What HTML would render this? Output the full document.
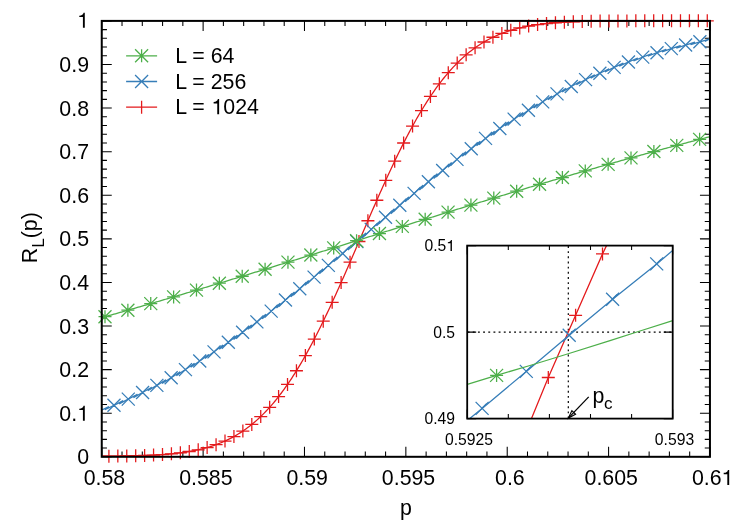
<!DOCTYPE html>
<html><head><meta charset="utf-8"><title>R_L(p)</title>
<style>
html,body{margin:0;padding:0;background:#fff;}
body{width:747px;height:523px;overflow:hidden;font-family:"Liberation Sans",sans-serif;}
svg{display:block;will-change:transform;}
text{font-family:"Liberation Sans",sans-serif;fill:#000;}
</style></head><body>
<svg width="747" height="523" viewBox="0 0 747 523">
<rect width="747" height="523" fill="#fff"/>

<path d="M101.75 456.8v-10M101.75 20.9v10M122.02 456.8v-5.2M122.02 20.9v5.2M142.30 456.8v-5.2M142.30 20.9v5.2M162.57 456.8v-5.2M162.57 20.9v5.2M182.84 456.8v-5.2M182.84 20.9v5.2M203.12 456.8v-10M203.12 20.9v10M223.39 456.8v-5.2M223.39 20.9v5.2M243.66 456.8v-5.2M243.66 20.9v5.2M263.94 456.8v-5.2M263.94 20.9v5.2M284.21 456.8v-5.2M284.21 20.9v5.2M304.48 456.8v-10M304.48 20.9v10M324.76 456.8v-5.2M324.76 20.9v5.2M345.03 456.8v-5.2M345.03 20.9v5.2M365.30 456.8v-5.2M365.30 20.9v5.2M385.58 456.8v-5.2M385.58 20.9v5.2M405.85 456.8v-10M405.85 20.9v10M426.12 456.8v-5.2M426.12 20.9v5.2M446.40 456.8v-5.2M446.40 20.9v5.2M466.67 456.8v-5.2M466.67 20.9v5.2M486.94 456.8v-5.2M486.94 20.9v5.2M507.22 456.8v-10M507.22 20.9v10M527.49 456.8v-5.2M527.49 20.9v5.2M547.76 456.8v-5.2M547.76 20.9v5.2M568.04 456.8v-5.2M568.04 20.9v5.2M588.31 456.8v-5.2M588.31 20.9v5.2M608.58 456.8v-10M608.58 20.9v10M628.86 456.8v-5.2M628.86 20.9v5.2M649.13 456.8v-5.2M649.13 20.9v5.2M669.40 456.8v-5.2M669.40 20.9v5.2M689.68 456.8v-5.2M689.68 20.9v5.2M709.95 456.8v-10M709.95 20.9v10M101.75 456.80h10M709.95 456.80h-10M101.75 448.08h5.2M709.95 448.08h-5.2M101.75 439.36h5.2M709.95 439.36h-5.2M101.75 430.65h5.2M709.95 430.65h-5.2M101.75 421.93h5.2M709.95 421.93h-5.2M101.75 413.21h10M709.95 413.21h-10M101.75 404.49h5.2M709.95 404.49h-5.2M101.75 395.77h5.2M709.95 395.77h-5.2M101.75 387.06h5.2M709.95 387.06h-5.2M101.75 378.34h5.2M709.95 378.34h-5.2M101.75 369.62h10M709.95 369.62h-10M101.75 360.90h5.2M709.95 360.90h-5.2M101.75 352.18h5.2M709.95 352.18h-5.2M101.75 343.47h5.2M709.95 343.47h-5.2M101.75 334.75h5.2M709.95 334.75h-5.2M101.75 326.03h10M709.95 326.03h-10M101.75 317.31h5.2M709.95 317.31h-5.2M101.75 308.59h5.2M709.95 308.59h-5.2M101.75 299.88h5.2M709.95 299.88h-5.2M101.75 291.16h5.2M709.95 291.16h-5.2M101.75 282.44h10M709.95 282.44h-10M101.75 273.72h5.2M709.95 273.72h-5.2M101.75 265.00h5.2M709.95 265.00h-5.2M101.75 256.29h5.2M709.95 256.29h-5.2M101.75 247.57h5.2M709.95 247.57h-5.2M101.75 238.85h10M709.95 238.85h-10M101.75 230.13h5.2M709.95 230.13h-5.2M101.75 221.41h5.2M709.95 221.41h-5.2M101.75 212.70h5.2M709.95 212.70h-5.2M101.75 203.98h5.2M709.95 203.98h-5.2M101.75 195.26h10M709.95 195.26h-10M101.75 186.54h5.2M709.95 186.54h-5.2M101.75 177.82h5.2M709.95 177.82h-5.2M101.75 169.11h5.2M709.95 169.11h-5.2M101.75 160.39h5.2M709.95 160.39h-5.2M101.75 151.67h10M709.95 151.67h-10M101.75 142.95h5.2M709.95 142.95h-5.2M101.75 134.23h5.2M709.95 134.23h-5.2M101.75 125.52h5.2M709.95 125.52h-5.2M101.75 116.80h5.2M709.95 116.80h-5.2M101.75 108.08h10M709.95 108.08h-10M101.75 99.36h5.2M709.95 99.36h-5.2M101.75 90.64h5.2M709.95 90.64h-5.2M101.75 81.93h5.2M709.95 81.93h-5.2M101.75 73.21h5.2M709.95 73.21h-5.2M101.75 64.49h10M709.95 64.49h-10M101.75 55.77h5.2M709.95 55.77h-5.2M101.75 47.05h5.2M709.95 47.05h-5.2M101.75 38.34h5.2M709.95 38.34h-5.2M101.75 29.62h5.2M709.95 29.62h-5.2M101.75 20.90h10M709.95 20.90h-10" stroke="#000" stroke-width="1.05" fill="none"/>
<clipPath id="mc"><rect x="101.75" y="18.9" width="608.20" height="439.90"/></clipPath>
<path d="M101.75 456.18L103.27 456.17L104.79 456.16L106.31 456.15L107.83 456.14L109.35 456.13L110.87 456.12L112.39 456.10L113.91 456.09L115.43 456.07L116.96 456.06L118.48 456.04L120.00 456.02L121.52 456.00L123.04 455.98L124.56 455.95L126.08 455.93L127.60 455.90L129.12 455.87L130.64 455.84L132.16 455.81L133.68 455.78L135.20 455.74L136.72 455.70L138.24 455.66L139.76 455.61L141.28 455.57L142.80 455.52L144.32 455.47L145.84 455.41L147.36 455.35L148.89 455.29L150.41 455.22L151.93 455.15L153.45 455.08L154.97 455.00L156.49 454.92L158.01 454.83L159.53 454.74L161.05 454.64L162.57 454.53L164.09 454.42L165.61 454.31L167.13 454.19L168.65 454.06L170.17 453.92L171.69 453.78L173.21 453.63L174.73 453.47L176.25 453.31L177.78 453.13L179.30 452.95L180.82 452.76L182.34 452.56L183.86 452.35L185.38 452.12L186.90 451.89L188.42 451.64L189.94 451.39L191.46 451.12L192.98 450.84L194.50 450.54L196.02 450.24L197.54 449.91L199.06 449.58L200.58 449.22L202.10 448.86L203.62 448.47L205.14 448.07L206.66 447.65L208.18 447.22L209.71 446.76L211.23 446.29L212.75 445.80L214.27 445.29L215.79 444.75L217.31 444.20L218.83 443.62L220.35 443.02L221.87 442.40L223.39 441.75L224.91 441.08L226.43 440.38L227.95 439.66L229.47 438.91L230.99 438.13L232.51 437.32L234.03 436.49L235.55 435.63L237.07 434.73L238.60 433.81L240.12 432.86L241.64 431.87L243.16 430.85L244.68 429.80L246.20 428.72L247.72 427.60L249.24 426.44L250.76 425.25L252.28 424.03L253.80 422.77L255.32 421.47L256.84 420.13L258.36 418.75L259.88 417.34L261.40 415.89L262.92 414.39L264.44 412.86L265.96 411.28L267.48 409.67L269.00 408.01L270.53 406.32L272.05 404.58L273.57 402.79L275.09 400.97L276.61 399.10L278.13 397.19L279.65 395.23L281.17 393.24L282.69 391.19L284.21 389.11L285.73 386.98L287.25 384.81L288.77 382.59L290.29 380.33L291.81 378.03L293.33 375.68L294.85 373.29L296.37 370.86L297.89 368.38L299.42 365.87L300.94 363.31L302.46 360.70L303.98 358.06L305.50 355.38L307.02 352.65L308.54 349.89L310.06 347.08L311.58 344.24L313.10 341.36L314.62 338.45L316.14 335.49L317.66 332.50L319.18 329.48L320.70 326.42L322.22 323.33L323.74 320.20L325.26 317.05L326.78 313.86L328.30 310.65L329.82 307.40L331.35 304.13L332.87 300.84L334.39 297.52L335.91 294.17L337.43 290.81L338.95 287.42L340.47 284.01L341.99 280.59L343.51 277.15L345.03 273.69L346.55 270.22L348.07 266.73L349.59 263.23L351.11 259.73L352.63 256.21L354.15 252.69L355.67 249.16L357.19 245.62L358.71 242.09L360.24 238.55L361.76 235.01L363.28 231.48L364.80 227.94L366.32 224.41L367.84 220.89L369.36 217.37L370.88 213.87L372.40 210.37L373.92 206.88L375.44 203.41L376.96 199.95L378.48 196.51L380.00 193.09L381.52 189.68L383.04 186.29L384.56 182.93L386.08 179.58L387.60 176.26L389.12 172.97L390.64 169.70L392.17 166.45L393.69 163.24L395.21 160.05L396.73 156.90L398.25 153.77L399.77 150.68L401.29 147.62L402.81 144.60L404.33 141.61L405.85 138.65L407.37 135.74L408.89 132.86L410.41 130.02L411.93 127.21L413.45 124.45L414.97 121.72L416.49 119.04L418.01 116.40L419.53 113.79L421.06 111.23L422.58 108.72L424.10 106.24L425.62 103.81L427.14 101.42L428.66 99.07L430.18 96.77L431.70 94.51L433.22 92.29L434.74 90.12L436.26 87.99L437.78 85.91L439.30 83.86L440.82 81.87L442.34 79.91L443.86 78.00L445.38 76.13L446.90 74.31L448.42 72.52L449.94 70.78L451.46 69.09L452.99 67.43L454.51 65.82L456.03 64.24L457.55 62.71L459.07 61.21L460.59 59.76L462.11 58.35L463.63 56.97L465.15 55.63L466.67 54.33L468.19 53.07L469.71 51.85L471.23 50.66L472.75 49.50L474.27 48.38L475.79 47.30L477.31 46.25L478.83 45.23L480.35 44.24L481.88 43.29L483.40 42.37L484.92 41.47L486.44 40.61L487.96 39.78L489.48 38.97L491.00 38.19L492.52 37.44L494.04 36.72L495.56 36.02L497.08 35.35L498.60 34.70L500.12 34.08L501.64 33.48L503.16 32.90L504.68 32.35L506.20 31.81L507.72 31.30L509.24 30.81L510.76 30.34L512.28 29.88L513.81 29.45L515.33 29.03L516.85 28.63L518.37 28.24L519.89 27.88L521.41 27.52L522.93 27.19L524.45 26.86L525.97 26.56L527.49 26.26L529.01 25.98L530.53 25.71L532.05 25.46L533.57 25.21L535.09 24.98L536.61 24.75L538.13 24.54L539.65 24.34L541.17 24.15L542.70 23.97L544.22 23.79L545.74 23.63L547.26 23.47L548.78 23.32L550.30 23.18L551.82 23.04L553.34 22.91L554.86 22.79L556.38 22.68L557.90 22.57L559.42 22.46L560.94 22.36L562.46 22.27L563.98 22.18L565.50 22.10L567.02 22.02L568.54 21.95L570.06 21.88L571.58 21.81L573.10 21.75L574.63 21.69L576.15 21.63L577.67 21.58L579.19 21.53L580.71 21.49L582.23 21.44L583.75 21.40L585.27 21.36L586.79 21.32L588.31 21.29L589.83 21.26L591.35 21.23L592.87 21.20L594.39 21.17L595.91 21.15L597.43 21.12L598.95 21.10L600.47 21.08L601.99 21.06L603.52 21.04L605.04 21.03L606.56 21.01L608.08 21.00L609.60 20.98L611.12 20.97L612.64 20.96L614.16 20.95L615.68 20.94L617.20 20.93L618.72 20.92L620.24 20.91L621.76 20.90L623.28 20.89L624.80 20.89L626.32 20.88L627.84 20.87L629.36 20.87L630.88 20.86L632.40 20.86L633.92 20.85L635.45 20.85L636.97 20.85L638.49 20.84L640.01 20.84L641.53 20.84L643.05 20.83L644.57 20.83L646.09 20.83L647.61 20.83L649.13 20.82L650.65 20.82L652.17 20.82L653.69 20.82L655.21 20.82L656.73 20.82L658.25 20.81L659.77 20.81L661.29 20.81L662.81 20.81L664.34 20.81L665.86 20.81L667.38 20.81L668.90 20.81L670.42 20.81L671.94 20.81L673.46 20.81L674.98 20.81L676.50 20.80L678.02 20.80L679.54 20.80L681.06 20.80L682.58 20.80L684.10 20.80L685.62 20.80L687.14 20.80L688.66 20.80L690.18 20.80L691.70 20.80L693.22 20.80L694.74 20.80L696.27 20.80L697.79 20.80L699.31 20.80L700.83 20.80L702.35 20.80L703.87 20.80L705.39 20.80L706.91 20.80L708.43 20.80L709.95 20.80" stroke="#e41a1c" stroke-width="1.28" fill="none" stroke-linejoin="round" clip-path="url(#mc)"/>
<path d="M102.40 456.13H115.40M108.90 449.63V462.63M111.33 456.05H124.33M117.83 449.55V462.55M120.26 455.92H133.26M126.76 449.42V462.42M129.19 455.73H142.19M135.69 449.23V462.23M138.12 455.46H151.12M144.62 448.96V461.96M147.06 455.07H160.06M153.56 448.57V461.57M155.99 454.54H168.99M162.49 448.04V461.04M164.92 453.81H177.92M171.42 447.31V460.31M173.85 452.82H186.85M180.35 446.32V459.32M182.78 451.50H195.78M189.28 445.00V458.00M191.71 449.77H204.71M198.21 443.27V456.27M200.64 447.52H213.64M207.14 441.02V454.02M209.57 444.65H222.57M216.07 438.15V451.15M218.50 441.03H231.50M225.00 434.53V447.53M227.43 436.55H240.43M233.93 430.05V443.05M236.36 431.05H249.36M242.86 424.55V437.55M245.30 424.42H258.30M251.80 417.92V430.92M254.23 416.54H267.23M260.73 410.04V423.04M263.16 407.29H276.16M269.66 400.79V413.79M272.09 396.60H285.09M278.59 390.10V403.10M281.02 384.42H294.02M287.52 377.92V390.92M289.95 370.74H302.95M296.45 364.24V377.24M298.88 355.58H311.88M305.38 349.08V362.08M307.81 339.04H320.81M314.31 332.54V345.54M316.74 321.23H329.74M323.24 314.73V327.73M325.67 302.34H338.67M332.17 295.84V308.84M334.61 282.58H347.61M341.11 276.08V289.08M343.54 262.21H356.54M350.04 255.71V268.71M352.47 241.50H365.47M358.97 235.00V248.00M361.40 220.75H374.40M367.90 214.25V227.25M370.33 200.25H383.33M376.83 193.75V206.75M379.26 180.29H392.26M385.76 173.79V186.79M388.19 161.13H401.19M394.69 154.63V167.63M397.12 142.99H410.12M403.62 136.49V149.49M406.05 126.08H419.05M412.55 119.58V132.58M414.99 110.52H427.99M421.49 104.02V117.02M423.92 96.41H436.92M430.42 89.91V102.91M432.85 83.80H445.85M439.35 77.30V90.30M441.78 72.69H454.78M448.28 66.19V79.19M450.71 63.05H463.71M457.21 56.55V69.55M459.64 54.78H472.64M466.14 48.28V61.28M468.57 47.81H481.57M475.07 41.31V54.31M477.50 42.01H490.50M484.00 35.51V48.51M486.43 37.25H499.43M492.93 30.75V43.75M495.36 33.40H508.36M501.86 26.90V39.90M504.29 30.33H517.29M510.79 23.83V36.83M513.23 27.91H526.23M519.73 21.41V34.41M522.16 26.04H535.16M528.66 19.54V32.54M531.09 24.62H544.09M537.59 18.12V31.12M540.02 23.54H553.02M546.52 17.04V30.04M548.95 22.75H561.95M555.45 16.25V29.25M557.88 22.16H570.88M564.38 15.66V28.66M566.81 21.74H579.81M573.31 15.24V28.24M575.74 21.44H588.74M582.24 14.94V27.94M584.67 21.23H597.67M591.17 14.73V27.73M593.60 21.09H606.60M600.10 14.59V27.59M602.54 20.99H615.54M609.04 14.49V27.49M611.47 20.92H624.47M617.97 14.42V27.42M620.40 20.88H633.40M626.90 14.38V27.38M629.33 20.85H642.33M635.83 14.35V27.35M638.26 20.83H651.26M644.76 14.33V27.33M647.19 20.82H660.19M653.69 14.32V27.32M656.12 20.81H669.12M662.62 14.31V27.31M665.05 20.81H678.05M671.55 14.31V27.31M673.98 20.80H686.98M680.48 14.30V27.30M682.91 20.80H695.91M689.41 14.30V27.30M691.85 20.80H704.85M698.35 14.30V27.30M700.78 20.80H713.78M707.28 14.30V27.30" stroke="#e41a1c" stroke-width="1.28" fill="none"/>
<path d="M99.71 410.97L108.88 406.63L104.82 409.75L114.00 405.30L123.15 400.66L119.13 403.91L128.29 399.15L137.42 394.19L133.44 397.58L142.58 392.51L151.69 387.22L147.75 390.76L156.87 385.36L165.97 379.76L162.06 383.44L171.16 377.72L180.24 371.79L176.36 375.61L185.45 369.58L194.52 363.34L190.67 367.30L199.74 360.94L208.79 354.40L204.97 358.49L214.03 351.84L223.07 345.00L219.28 349.22L228.32 342.28L237.35 335.16L233.58 339.50L242.61 332.29L251.63 324.91L247.88 329.37L256.90 321.90L265.91 314.28L262.18 318.84L271.19 311.15L280.19 303.32L276.48 307.97L285.48 300.07L294.47 292.06L290.77 296.79L299.77 288.71L308.76 280.54L305.07 285.34L314.06 277.12L323.05 268.83L319.36 273.68L328.35 265.35L337.33 256.98L333.66 261.86L342.64 253.46L351.62 245.03L347.95 249.93L356.93 241.49L365.91 232.98L362.24 237.93L371.22 229.38L380.20 220.85L376.53 225.79L385.51 217.27L394.49 208.80L390.82 213.71L399.80 205.27L408.79 196.89L405.11 201.76L414.09 193.42L423.08 185.18L419.39 189.98L428.38 181.79L437.38 173.71L433.68 178.45L442.67 170.43L451.67 162.55L447.96 167.19L456.96 159.39L465.97 151.73L462.24 156.27L471.25 148.70L480.27 141.29L476.52 145.72L485.54 138.41L494.58 131.28L490.80 135.59L499.83 128.56L508.88 121.71L505.07 125.89L514.12 119.16L523.18 112.62L519.35 116.67L528.41 110.24L537.49 104.03L533.63 107.93L542.70 101.83L551.80 95.94L547.90 99.69L556.99 93.92L566.10 88.36L562.17 91.97L571.28 86.53L580.41 81.30L576.44 84.76L585.57 79.65L594.72 74.75L590.72 78.07L599.86 73.28L609.03 68.71L604.99 71.88L614.15 67.42L623.34 63.16L619.26 66.19L628.44 62.04L637.65 58.09L633.53 60.98L642.73 57.13L651.96 53.47L647.80 56.24L657.02 52.68L666.27 49.30L662.07 51.94L671.31 48.66L680.57 45.55L676.34 48.06L685.60 45.04L694.88 42.18L690.62 44.58L699.89 41.80L709.19 39.18L704.89 41.47" stroke="#377eb8" stroke-width="1.28" fill="none" stroke-linejoin="miter" stroke-miterlimit="8" clip-path="url(#mc)"/>
<path d="M107.50 398.80L120.50 411.80M107.50 411.80L120.50 398.80M121.79 392.65L134.79 405.65M121.79 405.65L134.79 392.65M136.08 386.01L149.08 399.01M136.08 399.01L149.08 386.01M150.37 378.86L163.37 391.86M150.37 391.86L163.37 378.86M164.66 371.22L177.66 384.22M164.66 384.22L177.66 371.22M178.95 363.08L191.95 376.08M178.95 376.08L191.95 363.08M193.24 354.44L206.24 367.44M193.24 367.44L206.24 354.44M207.53 345.34L220.53 358.34M207.53 358.34L220.53 345.34M221.82 335.78L234.82 348.78M221.82 348.78L234.82 335.78M236.11 325.79L249.11 338.79M236.11 338.79L249.11 325.79M250.40 315.40L263.40 328.40M250.40 328.40L263.40 315.40M264.69 304.65L277.69 317.65M264.69 317.65L277.69 304.65M278.98 293.57L291.98 306.57M278.98 306.57L291.98 293.57M293.27 282.21L306.27 295.21M293.27 295.21L306.27 282.21M307.56 270.62L320.56 283.62M307.56 283.62L320.56 270.62M321.85 258.85L334.85 271.85M321.85 271.85L334.85 258.85M336.14 246.96L349.14 259.96M336.14 259.96L349.14 246.96M350.43 234.99L363.43 247.99M350.43 247.99L363.43 234.99M364.72 222.88L377.72 235.88M364.72 235.88L377.72 222.88M379.01 210.77L392.01 223.77M379.01 223.77L392.01 210.77M393.30 198.77L406.30 211.77M393.30 211.77L406.30 198.77M407.59 186.92L420.59 199.92M407.59 199.92L420.59 186.92M421.88 175.29L434.88 188.29M421.88 188.29L434.88 175.29M436.17 163.93L449.17 176.93M436.17 176.93L449.17 163.93M450.46 152.89L463.46 165.89M450.46 165.89L463.46 152.89M464.75 142.20L477.75 155.20M464.75 155.20L477.75 142.20M479.04 131.91L492.04 144.91M479.04 144.91L492.04 131.91M493.33 122.06L506.33 135.06M493.33 135.06L506.33 122.06M507.62 112.66L520.62 125.66M507.62 125.66L520.62 112.66M521.91 103.74L534.91 116.74M521.91 116.74L534.91 103.74M536.20 95.33L549.20 108.33M536.20 108.33L549.20 95.33M550.49 87.42L563.49 100.42M550.49 100.42L563.49 87.42M564.78 80.03L577.78 93.03M564.78 93.03L577.78 80.03M579.07 73.15L592.07 86.15M579.07 86.15L592.07 73.15M593.36 66.78L606.36 79.78M593.36 79.78L606.36 66.78M607.65 60.92L620.65 73.92M607.65 73.92L620.65 60.92M621.94 55.54L634.94 68.54M621.94 68.54L634.94 55.54M636.23 50.63L649.23 63.63M636.23 63.63L649.23 50.63M650.52 46.18L663.52 59.18M650.52 59.18L663.52 46.18M664.81 42.16L677.81 55.16M664.81 55.16L677.81 42.16M679.10 38.54L692.10 51.54M679.10 51.54L692.10 38.54M693.39 35.30L706.39 48.30M693.39 48.30L706.39 35.30" stroke="#377eb8" stroke-width="1.28" fill="none"/>
<path d="M101.75 317.61L103.27 317.19L104.79 316.76L106.31 316.33L107.83 315.90L109.35 315.48L110.87 315.05L112.39 314.62L113.91 314.19L115.43 313.76L116.96 313.33L118.48 312.89L120.00 312.46L121.52 312.03L123.04 311.59L124.56 311.16L126.08 310.73L127.60 310.29L129.12 309.86L130.64 309.42L132.16 308.98L133.68 308.55L135.20 308.11L136.72 307.67L138.24 307.23L139.76 306.79L141.28 306.36L142.80 305.92L144.32 305.48L145.84 305.03L147.36 304.59L148.89 304.15L150.41 303.71L151.93 303.27L153.45 302.82L154.97 302.38L156.49 301.94L158.01 301.49L159.53 301.05L161.05 300.60L162.57 300.15L164.09 299.71L165.61 299.26L167.13 298.81L168.65 298.37L170.17 297.92L171.69 297.47L173.21 297.02L174.73 296.57L176.25 296.12L177.78 295.67L179.30 295.22L180.82 294.77L182.34 294.32L183.86 293.87L185.38 293.42L186.90 292.96L188.42 292.51L189.94 292.06L191.46 291.60L192.98 291.15L194.50 290.69L196.02 290.24L197.54 289.78L199.06 289.33L200.58 288.87L202.10 288.42L203.62 287.96L205.14 287.50L206.66 287.04L208.18 286.59L209.71 286.13L211.23 285.67L212.75 285.21L214.27 284.75L215.79 284.29L217.31 283.83L218.83 283.37L220.35 282.91L221.87 282.45L223.39 281.99L224.91 281.53L226.43 281.07L227.95 280.60L229.47 280.14L230.99 279.68L232.51 279.21L234.03 278.75L235.55 278.29L237.07 277.82L238.60 277.36L240.12 276.89L241.64 276.43L243.16 275.96L244.68 275.50L246.20 275.03L247.72 274.57L249.24 274.10L250.76 273.63L252.28 273.17L253.80 272.70L255.32 272.23L256.84 271.77L258.36 271.30L259.88 270.83L261.40 270.36L262.92 269.89L264.44 269.43L265.96 268.96L267.48 268.49L269.00 268.02L270.53 267.55L272.05 267.08L273.57 266.61L275.09 266.14L276.61 265.67L278.13 265.20L279.65 264.73L281.17 264.26L282.69 263.78L284.21 263.31L285.73 262.84L287.25 262.37L288.77 261.90L290.29 261.42L291.81 260.95L293.33 260.48L294.85 260.01L296.37 259.53L297.89 259.06L299.42 258.59L300.94 258.12L302.46 257.64L303.98 257.17L305.50 256.69L307.02 256.22L308.54 255.75L310.06 255.27L311.58 254.80L313.10 254.32L314.62 253.85L316.14 253.38L317.66 252.90L319.18 252.43L320.70 251.95L322.22 251.48L323.74 251.00L325.26 250.53L326.78 250.05L328.30 249.58L329.82 249.10L331.35 248.62L332.87 248.15L334.39 247.67L335.91 247.20L337.43 246.72L338.95 246.25L340.47 245.77L341.99 245.29L343.51 244.82L345.03 244.34L346.55 243.87L348.07 243.39L349.59 242.91L351.11 242.44L352.63 241.96L354.15 241.48L355.67 241.01L357.19 240.53L358.71 240.06L360.24 239.58L361.76 239.10L363.28 238.63L364.80 238.15L366.32 237.67L367.84 237.20L369.36 236.72L370.88 236.24L372.40 235.77L373.92 235.29L375.44 234.82L376.96 234.34L378.48 233.86L380.00 233.39L381.52 232.91L383.04 232.43L384.56 231.96L386.08 231.48L387.60 231.01L389.12 230.53L390.64 230.06L392.17 229.58L393.69 229.10L395.21 228.63L396.73 228.15L398.25 227.68L399.77 227.20L401.29 226.73L402.81 226.25L404.33 225.78L405.85 225.30L407.37 224.83L408.89 224.35L410.41 223.88L411.93 223.40L413.45 222.93L414.97 222.45L416.49 221.98L418.01 221.50L419.53 221.03L421.06 220.56L422.58 220.08L424.10 219.61L425.62 219.14L427.14 218.66L428.66 218.19L430.18 217.72L431.70 217.24L433.22 216.77L434.74 216.30L436.26 215.83L437.78 215.35L439.30 214.88L440.82 214.41L442.34 213.94L443.86 213.47L445.38 213.00L446.90 212.52L448.42 212.05L449.94 211.58L451.46 211.11L452.99 210.64L454.51 210.17L456.03 209.70L457.55 209.23L459.07 208.76L460.59 208.29L462.11 207.82L463.63 207.36L465.15 206.89L466.67 206.42L468.19 205.95L469.71 205.48L471.23 205.02L472.75 204.55L474.27 204.08L475.79 203.61L477.31 203.15L478.83 202.68L480.35 202.22L481.88 201.75L483.40 201.28L484.92 200.82L486.44 200.35L487.96 199.89L489.48 199.43L491.00 198.96L492.52 198.50L494.04 198.03L495.56 197.57L497.08 197.11L498.60 196.64L500.12 196.18L501.64 195.72L503.16 195.26L504.68 194.80L506.20 194.34L507.72 193.88L509.24 193.42L510.76 192.96L512.28 192.50L513.81 192.04L515.33 191.58L516.85 191.12L518.37 190.66L519.89 190.20L521.41 189.75L522.93 189.29L524.45 188.83L525.97 188.37L527.49 187.92L529.01 187.46L530.53 187.01L532.05 186.55L533.57 186.10L535.09 185.64L536.61 185.19L538.13 184.74L539.65 184.28L541.17 183.83L542.70 183.38L544.22 182.93L545.74 182.47L547.26 182.02L548.78 181.57L550.30 181.12L551.82 180.67L553.34 180.22L554.86 179.77L556.38 179.32L557.90 178.88L559.42 178.43L560.94 177.98L562.46 177.53L563.98 177.09L565.50 176.64L567.02 176.20L568.54 175.75L570.06 175.31L571.58 174.86L573.10 174.42L574.63 173.98L576.15 173.53L577.67 173.09L579.19 172.65L580.71 172.21L582.23 171.77L583.75 171.33L585.27 170.89L586.79 170.45L588.31 170.01L589.83 169.57L591.35 169.13L592.87 168.69L594.39 168.26L595.91 167.82L597.43 167.38L598.95 166.95L600.47 166.51L601.99 166.08L603.52 165.64L605.04 165.21L606.56 164.78L608.08 164.34L609.60 163.91L611.12 163.48L612.64 163.05L614.16 162.62L615.68 162.19L617.20 161.76L618.72 161.33L620.24 160.90L621.76 160.48L623.28 160.05L624.80 159.62L626.32 159.20L627.84 158.77L629.36 158.35L630.88 157.92L632.40 157.50L633.92 157.07L635.45 156.65L636.97 156.23L638.49 155.81L640.01 155.39L641.53 154.97L643.05 154.55L644.57 154.13L646.09 153.71L647.61 153.29L649.13 152.87L650.65 152.46L652.17 152.04L653.69 151.62L655.21 151.21L656.73 150.80L658.25 150.38L659.77 149.97L661.29 149.56L662.81 149.14L664.34 148.73L665.86 148.32L667.38 147.91L668.90 147.50L670.42 147.09L671.94 146.68L673.46 146.28L674.98 145.87L676.50 145.46L678.02 145.06L679.54 144.65L681.06 144.25L682.58 143.84L684.10 143.44L685.62 143.04L687.14 142.63L688.66 142.23L690.18 141.83L691.70 141.43L693.22 141.03L694.74 140.63L696.27 140.23L697.79 139.84L699.31 139.44L700.83 139.04L702.35 138.65L703.87 138.25L705.39 137.86L706.91 137.47L708.43 137.07L709.95 136.68" stroke="#4daf4a" stroke-width="1.28" fill="none" stroke-linejoin="round" clip-path="url(#mc)"/>
<path d="M98.50 316.70H111.50M105.00 310.20V323.20M98.50 310.20L111.50 323.20M98.50 323.20L111.50 310.20M121.37 310.21H134.37M127.87 303.71V316.71M121.37 303.71L134.37 316.71M121.37 316.71L134.37 303.71M144.24 303.61H157.24M150.74 297.11V310.11M144.24 297.11L157.24 310.11M144.24 310.11L157.24 297.11M167.11 296.90H180.11M173.61 290.40V303.40M167.11 290.40L180.11 303.40M167.11 303.40L180.11 290.40M189.98 290.10H202.98M196.48 283.60V296.60M189.98 283.60L202.98 296.60M189.98 296.60L202.98 283.60M212.85 283.21H225.85M219.35 276.71V289.71M212.85 276.71L225.85 289.71M212.85 289.71L225.85 276.71M235.72 276.25H248.72M242.22 269.75V282.75M235.72 269.75L248.72 282.75M235.72 282.75L248.72 269.75M258.59 269.23H271.59M265.09 262.73V275.73M258.59 262.73L271.59 275.73M258.59 275.73L271.59 262.73M281.46 262.15H294.46M287.96 255.65V268.65M281.46 255.65L294.46 268.65M281.46 268.65L294.46 255.65M304.33 255.03H317.33M310.83 248.53V261.53M304.33 248.53L317.33 261.53M304.33 261.53L317.33 248.53M327.20 247.89H340.20M333.70 241.39V254.39M327.20 241.39L340.20 254.39M327.20 254.39L340.20 241.39M350.07 240.73H363.07M356.57 234.23V247.23M350.07 234.23L363.07 247.23M350.07 247.23L363.07 234.23M372.94 233.56H385.94M379.44 227.06V240.06M372.94 227.06L385.94 240.06M372.94 240.06L385.94 227.06M395.81 226.41H408.81M402.31 219.91V232.91M395.81 219.91L408.81 232.91M395.81 232.91L408.81 219.91M418.68 219.27H431.68M425.18 212.77V225.77M418.68 212.77L431.68 225.77M418.68 225.77L431.68 212.77M441.55 212.17H454.55M448.05 205.67V218.67M441.55 205.67L454.55 218.67M441.55 218.67L454.55 205.67M464.42 205.11H477.42M470.92 198.61V211.61M464.42 198.61L477.42 211.61M464.42 211.61L477.42 198.61M487.29 198.11H500.29M493.79 191.61V204.61M487.29 191.61L500.29 204.61M487.29 204.61L500.29 191.61M510.16 191.18H523.16M516.66 184.68V197.68M510.16 184.68L523.16 197.68M510.16 197.68L523.16 184.68M533.03 184.32H546.03M539.53 177.82V190.82M533.03 177.82L546.03 190.82M533.03 190.82L546.03 177.82M555.90 177.55H568.90M562.40 171.05V184.05M555.90 171.05L568.90 184.05M555.90 184.05L568.90 171.05M578.77 170.89H591.77M585.27 164.39V177.39M578.77 164.39L591.77 177.39M578.77 177.39L591.77 164.39M601.64 164.33H614.64M608.14 157.83V170.83M601.64 157.83L614.64 170.83M601.64 170.83L614.64 157.83M624.51 157.89H637.51M631.01 151.39V164.39M624.51 151.39L637.51 164.39M624.51 164.39L637.51 151.39M647.38 151.57H660.38M653.88 145.07V158.07M647.38 145.07L660.38 158.07M647.38 158.07L660.38 145.07M670.25 145.39H683.25M676.75 138.89V151.89M670.25 138.89L683.25 151.89M670.25 151.89L683.25 138.89M693.12 139.36H706.12M699.62 132.86V145.86M693.12 132.86L706.12 145.86M693.12 145.86L706.12 132.86" stroke="#4daf4a" stroke-width="1.28" fill="none"/>
<rect x="101.75" y="20.9" width="608.20" height="435.90" fill="none" stroke="#000" stroke-width="2"/>
<text x="77.14" y="464.40" font-size="21.33" xml:space="preserve">0</text>
<text x="59.35" y="420.81" font-size="21.33" xml:space="preserve">0.</text><path d="M84.79 420.81L84.79 405.69L83.54 405.69C83.22 407.37 81.83 408.44 79.29 408.65L79.29 410.04L82.92 410.04L82.92 420.81Z" fill="#000"/>
<text x="59.35" y="377.22" font-size="21.33" xml:space="preserve">0.2</text>
<text x="59.35" y="333.63" font-size="21.33" xml:space="preserve">0.3</text>
<text x="59.35" y="290.04" font-size="21.33" xml:space="preserve">0.4</text>
<text x="59.35" y="246.45" font-size="21.33" xml:space="preserve">0.5</text>
<text x="59.35" y="202.86" font-size="21.33" xml:space="preserve">0.6</text>
<text x="59.35" y="159.27" font-size="21.33" xml:space="preserve">0.7</text>
<text x="59.35" y="115.68" font-size="21.33" xml:space="preserve">0.8</text>
<text x="59.35" y="72.09" font-size="21.33" xml:space="preserve">0.9</text>
<path d="M84.79 27.80L84.79 12.68L83.54 12.68C83.22 14.36 81.83 15.43 79.29 15.64L79.29 17.03L82.92 17.03L82.92 27.80Z" fill="#000"/>
<text x="83.69" y="485.00" font-size="21.33" xml:space="preserve">0.58</text>
<text x="179.13" y="485.00" font-size="21.33" xml:space="preserve">0.585</text>
<text x="286.43" y="485.00" font-size="21.33" xml:space="preserve">0.59</text>
<text x="381.86" y="485.00" font-size="21.33" xml:space="preserve">0.595</text>
<text x="495.09" y="485.00" font-size="21.33" xml:space="preserve">0.6</text>
<text x="584.59" y="485.00" font-size="21.33" xml:space="preserve">0.605</text>
<text x="691.89" y="485.00" font-size="21.33" xml:space="preserve">0.6</text><path d="M729.20 485.00L729.20 469.88L727.94 469.88C727.62 471.56 726.24 472.63 723.70 472.84L723.70 474.23L727.32 474.23L727.32 485.00Z" fill="#000"/>
<text x="400.07" y="515.20" font-size="21.33" xml:space="preserve">p</text>
<g transform="translate(37.4,263.2) rotate(-90)"><text x="0" y="0" font-size="21.33">R</text><text x="15.4" y="6.5" font-size="17.07">L</text><text x="24.9" y="0" font-size="21.33">(p)</text></g>
<path d="M126.1 55.80H157.1M135.10 55.80H148.10M141.60 49.30V62.30M135.10 49.30L148.10 62.30M135.10 62.30L148.10 49.30" stroke="#4daf4a" stroke-width="1.28" fill="none"/>
<text x="175.30" y="62.80" font-size="21.33" xml:space="preserve">L = 64</text>
<path d="M126.1 81.50H157.1M135.10 75.00L148.10 88.00M135.10 88.00L148.10 75.00" stroke="#377eb8" stroke-width="1.28" fill="none"/>
<text x="175.30" y="88.50" font-size="21.33" xml:space="preserve">L = 256</text>
<path d="M126.1 107.20H157.1M135.10 107.20H148.10M141.60 100.70V113.70" stroke="#e41a1c" stroke-width="1.28" fill="none"/>
<text x="175.30" y="114.20" font-size="21.33" xml:space="preserve">L = </text><path d="M219.13 114.20L219.13 99.08L217.87 99.08C217.55 100.76 216.16 101.83 213.63 102.04L213.63 103.43L217.25 103.43L217.25 114.20Z" fill="#000"/><text x="223.33" y="114.20" font-size="21.33" xml:space="preserve">024</text>
<clipPath id="ic"><rect x="467.2" y="245.6" width="205.50" height="173.00"/></clipPath>
<path d="M568.31 245.6V418.6M467.2 332.10H672.7" stroke="#000" stroke-width="1.2" stroke-dasharray="1.9 3.27" stroke-dashoffset="-0.4" fill="none"/>
<path d="M467.20 418.6v-9M467.20 245.6v9M508.30 418.6v-4.5M508.30 245.6v4.5M549.40 418.6v-4.5M549.40 245.6v4.5M590.50 418.6v-4.5M590.50 245.6v4.5M631.60 418.6v-4.5M631.60 245.6v4.5M672.70 418.6v-9M672.70 245.6v9M467.2 418.60h9M672.7 418.60h-9M467.2 332.10h9M672.7 332.10h-9M467.2 245.60h9M672.7 245.60h-9" stroke="#000" stroke-width="1.05" fill="none"/>
<g clip-path="url(#ic)">
<path d="M531.5 418.6L548.3 377.5L575.6 315.3L602.5 253.9L606.5 245.6" stroke="#e41a1c" stroke-width="1.28" fill="none"/>
<path d="M541.80 377.50H554.80M548.30 371.00V384.00M569.10 315.30H582.10M575.60 308.80V321.80M596.00 253.90H609.00M602.50 247.40V260.40" stroke="#e41a1c" stroke-width="1.28" fill="none"/>
<path d="M467.3 420.5L482.1 408.4L526.3 371.4L569.2 335.3L612.6 299.2L656.7 263.9L672.7 250.5" stroke="#377eb8" stroke-width="1.28" fill="none"/>
<path d="M475.60 401.90L488.60 414.90M475.60 414.90L488.60 401.90M519.80 364.90L532.80 377.90M519.80 377.90L532.80 364.90M562.70 328.80L575.70 341.80M562.70 341.80L575.70 328.80M606.10 292.70L619.10 305.70M606.10 305.70L619.10 292.70M650.20 257.40L663.20 270.40M650.20 270.40L663.20 257.40" stroke="#377eb8" stroke-width="1.28" fill="none"/>
<path d="M481.91 408.17L486.60 403.65M526.11 371.17L530.80 366.65M569.01 335.07L573.70 330.55M612.41 298.97L617.10 294.45M656.51 263.67L661.20 259.15" stroke="#377eb8" stroke-width="1.28" fill="none"/>
<path d="M467.3 384.3L496.6 375.4L530 365.5L569 353.5L610 340.6L640 331L672.7 320.6" stroke="#4daf4a" stroke-width="1.28" fill="none"/>
<path d="M490.10 375.40H503.10M496.60 368.90V381.90M490.10 368.90L503.10 381.90M490.10 381.90L503.10 368.90" stroke="#4daf4a" stroke-width="1.28" fill="none"/>
</g>
<rect x="467.2" y="245.6" width="205.50" height="173.00" fill="none" stroke="#000" stroke-width="1.8"/>
<text x="424.44" y="251.10" font-size="15.7" xml:space="preserve">0.5</text><path d="M451.90 251.10L451.90 239.97L450.98 239.97C450.74 241.21 449.72 241.99 447.85 242.15L447.85 243.17L450.52 243.17L450.52 251.10Z" fill="#000"/>
<text x="433.17" y="337.60" font-size="15.7" xml:space="preserve">0.5</text>
<text x="424.44" y="424.10" font-size="15.7" xml:space="preserve">0.49</text>
<text x="444.99" y="444.70" font-size="15.7" xml:space="preserve">0.5925</text>
<text x="654.86" y="444.70" font-size="15.7" xml:space="preserve">0.593</text>
<text x="592.6" y="402.8" font-size="21.33">p</text><text x="603.9" y="408.6" font-size="17.07">c</text>
<path d="M588.7 396.9L568.31 418.10" stroke="#000" stroke-width="1.3" fill="none"/>
<path d="M575.54 414.24L568.31 418.10L571.89 410.72Z" stroke="#000" stroke-width="1.1" fill="none" stroke-linejoin="miter"/>
</svg></body></html>
